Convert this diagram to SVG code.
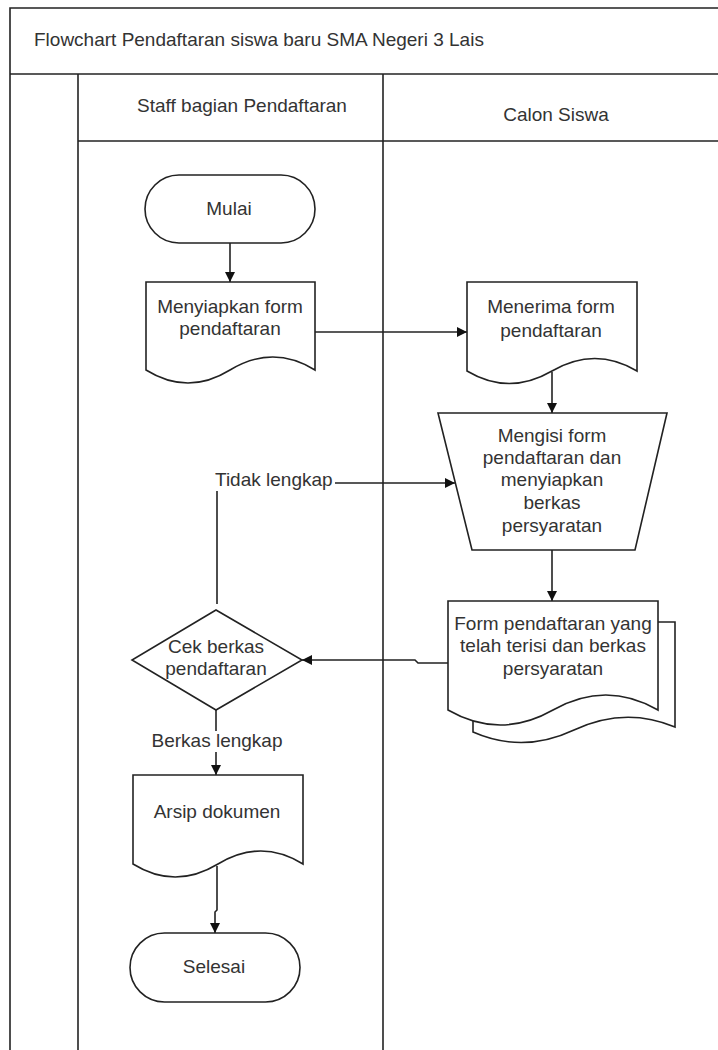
<svg xmlns="http://www.w3.org/2000/svg" width="718" height="1050" viewBox="0 0 718 1050">
<defs>
<style>
.t{font-family:"Liberation Sans",Arial,sans-serif;font-size:19px;fill:#333;}
.c{text-anchor:middle;}
.s{fill:#fff;stroke:#222;stroke-width:1.6;}
.ln{fill:none;stroke:#222;stroke-width:1.6;}
.e{fill:none;stroke:#222;stroke-width:1.6;marker-end:url(#ah);}
</style>
<marker id="ah" viewBox="0 0 10 10" refX="10" refY="5" markerWidth="10" markerHeight="10" markerUnits="userSpaceOnUse" orient="auto">
<path d="M0,0 L10,5 L0,10 Z" fill="#111"/>
</marker>
</defs>
<rect width="718" height="1050" fill="#fff"/>
<g id="pool">
<path class="ln" d="M720,8 H10 V1050"/>
<path class="ln" d="M10,74 H720"/>
<path class="ln" d="M78,74 V1050"/>
<path class="ln" d="M383,74 V1050"/>
<path class="ln" d="M78,141 H720"/>
<text class="t" x="34" y="46">Flowchart Pendaftaran siswa baru SMA Negeri 3 Lais</text>
<text class="t c" x="242" y="112">Staff bagian Pendaftaran</text>
<text class="t c" x="556" y="121">Calon Siswa</text>
</g>
<g id="connectors">
<path class="e" d="M230,243 V282"/>
<path class="e" d="M315,332 H467"/>
<path class="e" d="M552,372 V413"/>
<path class="e" d="M552,550 V601"/>
<path class="e" d="M448,663 H418 L415,660 H302"/>
<path class="e" d="M217,604 V483 H455"/>
<rect x="213" y="469" width="122" height="22" fill="#fff"/>
<text class="t" x="215" y="486">Tidak lengkap</text>
<path class="e" d="M216,710 V775"/>
<rect x="150" y="731" width="135" height="21" fill="#fff"/>
<text class="t c" x="217" y="747">Berkas lengkap</text>
<path class="e" d="M217,866 V910 L215,912 V933"/>
</g>
<g id="mulai">
<rect class="s" x="145" y="175" width="170" height="68" rx="34"/>
<text class="t c" x="229" y="215">Mulai</text>
</g>
<g id="menyiapkan">
<path class="s" d="M146,282 H315 V370 Q273,344 230,370 Q188,396 146,370 Z"/>
<text class="t c" x="230" y="313">Menyiapkan form</text>
<text class="t c" x="230" y="335">pendaftaran</text>
</g>
<g id="menerima">
<path class="s" d="M467,282 H637 V371 Q595,346 552,371 Q509,396 467,371 Z"/>
<text class="t c" x="551" y="313">Menerima form</text>
<text class="t c" x="551" y="337">pendaftaran</text>
</g>
<g id="mengisi">
<path class="s" d="M438,413 H667 L635,550 H472 Z"/>
<text class="t c" x="552" y="442">Mengisi form</text>
<text class="t c" x="552" y="464">pendaftaran dan</text>
<text class="t c" x="552" y="486">menyiapkan</text>
<text class="t c" x="552" y="509">berkas</text>
<text class="t c" x="552" y="532">persyaratan</text>
</g>
<g id="formterisi">
<path class="s" d="M473,622 H675 V727 Q625,706 574,730 Q523,754 473,732 Z"/>
<path class="s" d="M448,601 H658 V710 Q606,680 553,710 Q500,740 448,710 Z"/>
<text class="t c" x="553" y="630">Form pendaftaran yang</text>
<text class="t c" x="553" y="652">telah terisi dan berkas</text>
<text class="t c" x="553" y="675">persyaratan</text>
</g>
<g id="cek">
<path class="s" d="M216,610 L302,660 L216,710 L132,660 Z"/>
<text class="t c" x="216" y="653">Cek berkas</text>
<text class="t c" x="216" y="675">pendaftaran</text>
</g>
<g id="arsip">
<path class="s" d="M133,775 H303 V864 Q261,838 218,864 Q175,890 133,864 Z"/>
<text class="t c" x="217" y="818">Arsip dokumen</text>
</g>
<g id="selesai">
<rect class="s" x="130" y="933" width="170" height="69" rx="34.5"/>
<text class="t c" x="214" y="973">Selesai</text>
</g>
</svg>
